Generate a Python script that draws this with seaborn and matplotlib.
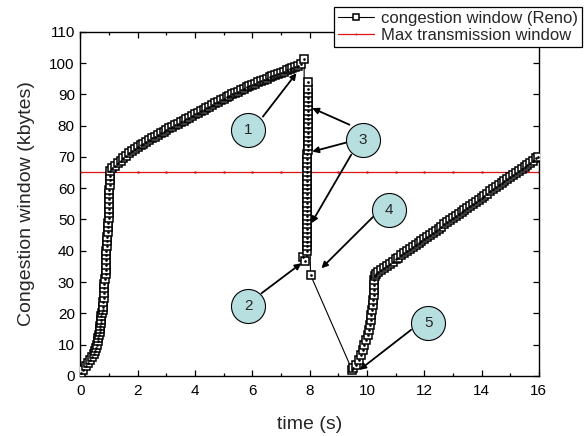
import matplotlib
matplotlib.use("Agg")
import matplotlib.pyplot as plt
import seaborn as sns
import pandas as pd

# ---------------- data ----------------
# slow start 1
t_ss1 = [0.03, 0.10, 0.18, 0.26, 0.33, 0.40, 0.46, 0.52, 0.56, 0.58, 0.60, 0.63, 0.65,
         0.67, 0.69, 0.70, 0.71, 0.72, 0.73, 0.75, 0.78, 0.79, 0.80, 0.81, 0.82, 0.83,
         0.84, 0.87, 0.88, 0.89, 0.90, 0.90, 0.91, 0.91, 0.92, 0.92, 0.93, 0.97, 0.98,
         0.98, 0.99, 0.99, 1.00, 1.00, 1.00, 1.01, 1.01, 1.02, 1.02, 1.02, 1.03]
w_ss1 = [1.0, 2.0, 3.0, 4.0, 5.0, 6.0, 7.0, 8.0, 9.0, 10.0, 11.0, 12.0, 13.0,
         14.0, 15.0, 16.0, 17.0, 18.0, 19.0, 20.0, 21.0, 22.0, 23.5, 25.0, 26.5, 28.0,
         29.5, 31.0, 32.5, 34.0, 35.5, 37.0, 38.5, 40.0, 41.5, 43.0, 44.5, 46.0, 47.5,
         49.0, 50.5, 52.0, 53.5, 55.0, 56.5, 58.0, 59.5, 61.0, 62.5, 64.0, 65.5]
# congestion avoidance 1
t_ca1 = [1.1, 1.2, 1.3, 1.4, 1.5, 1.6, 1.7, 1.8, 1.9, 2.0, 2.1, 2.2, 2.3, 2.4, 2.5, 2.6,
         2.7, 2.8, 2.9, 3.0, 3.1, 3.2, 3.3, 3.4, 3.5, 3.6, 3.7, 3.8, 3.9, 4.0, 4.1, 4.2,
         4.3, 4.4, 4.5, 4.6, 4.7, 4.8, 4.9, 5.0, 5.1, 5.2, 5.3, 5.4, 5.5, 5.6, 5.7, 5.8,
         5.9, 6.0, 6.1, 6.2, 6.3, 6.4, 6.5, 6.6, 6.7, 6.8, 6.9, 7.0, 7.1, 7.2, 7.3, 7.4,
         7.5, 7.6, 7.7, 7.81]
w_ca1 = [66.4, 67.2, 68.0, 68.8, 69.6, 70.4, 71.2, 72.0, 72.6, 73.1, 73.7, 74.2, 74.8,
         75.3, 75.9, 76.4, 77.0, 77.5, 78.1, 78.6, 79.1, 79.6, 80.1, 80.6, 81.1, 81.6,
         82.1, 82.6, 83.1, 83.6, 84.1, 84.6, 85.1, 85.6, 86.1, 86.6, 87.1, 87.6, 88.1,
         88.6, 89.1, 89.6, 90.1, 90.5, 90.9, 91.3, 91.7, 92.2, 92.6, 93.0, 93.4, 93.8,
         94.2, 94.6, 95.0, 95.4, 95.8, 96.2, 96.5, 96.9, 97.3, 97.7, 98.0, 98.4, 98.8,
         99.2, 99.6, 101.2]
# loss, fast recovery, timeout
t_fr = [7.78, 7.83, 7.90, 7.90, 7.90, 7.90, 7.90, 7.91, 7.91, 7.91, 7.91, 7.91, 7.91,
        7.91, 7.91, 7.92, 7.92, 7.92, 7.92, 7.92, 7.92, 7.92, 7.92, 7.92, 7.92, 7.93,
        7.93, 7.93, 7.93, 7.93, 7.93, 7.93, 7.93, 7.93, 7.93, 7.94, 7.94, 7.94, 7.94,
        7.94, 7.94, 8.03]
w_fr = [38.0, 36.8, 40.0, 41.4, 42.8, 44.2, 45.6, 47.0, 48.4, 49.8, 51.2, 52.6, 54.0,
        55.4, 56.8, 58.2, 59.6, 61.0, 62.4, 63.8, 65.2, 66.6, 68.0, 69.4, 70.8, 72.2,
        73.6, 75.0, 76.4, 77.8, 79.2, 80.6, 82.0, 83.4, 84.8, 86.2, 87.6, 89.0, 90.4,
        91.8, 93.8, 32.3]
# slow start 2
t_ss2 = [9.48, 9.52, 9.62, 9.71, 9.80, 9.85, 9.91, 9.97, 10.03, 10.06, 10.11, 10.13,
         10.15, 10.18, 10.20, 10.22, 10.23, 10.24, 10.25, 10.26, 10.28]
w_ss2 = [1.9, 2.4, 3.5, 5.1, 6.7, 8.3, 9.9, 11.5, 13.1, 14.7, 16.3, 17.9, 19.5, 21.1,
         22.7, 24.3, 25.9, 27.5, 29.1, 30.7, 32.0]
# congestion avoidance 2
t_ca2 = [10.3, 10.4, 10.5, 10.6, 10.7, 10.8, 10.9, 11.0, 11.1, 11.2, 11.3, 11.4, 11.5,
         11.6, 11.7, 11.8, 11.9, 12.0, 12.1, 12.2, 12.3, 12.4, 12.5, 12.6, 12.7, 12.8,
         12.9, 13.0, 13.1, 13.2, 13.3, 13.4, 13.5, 13.6, 13.7, 13.8, 13.9, 14.0, 14.1,
         14.2, 14.3, 14.4, 14.5, 14.6, 14.7, 14.8, 14.9, 15.0, 15.1, 15.2, 15.3, 15.4,
         15.5, 15.6, 15.7, 15.8, 15.9, 15.97]
w_ca2 = [32.6, 33.2, 33.9, 34.5, 35.2, 35.9, 36.5, 37.2, 37.8, 38.5, 39.2, 39.8, 40.5,
         41.1, 41.8, 42.5, 43.1, 43.8, 44.4, 45.1, 45.8, 46.4, 47.1, 47.7, 48.4, 49.1,
         49.7, 50.4, 51.0, 51.7, 52.4, 53.0, 53.7, 54.3, 55.0, 55.7, 56.3, 57.0, 57.6,
         58.3, 59.0, 59.6, 60.3, 60.9, 61.6, 62.3, 62.9, 63.6, 64.2, 64.9, 65.6, 66.2,
         66.9, 67.5, 68.2, 68.8, 69.5, 70.1]

t_max = [0, 1, 2, 3, 4, 5, 6, 7, 8, 9, 10, 11, 12, 13, 14, 15, 16]
w_max = [65.3] * 17

series_labels = ["congestion window (Reno)", "Max transmission window"]
x_ticks = [0, 2, 4, 6, 8, 10, 12, 14, 16]
y_ticks = [0, 10, 20, 30, 40, 50, 60, 70, 80, 90, 100, 110]

# annotation circles: label, center, list of (tail, head)
circ_labels = ["1", "2", "3", "4", "5"]
circ_centers = [(5.85, 78.7), (5.85, 22.2), (9.85, 75.5), (10.76, 53.1), (12.14, 17.0)]
circ_arrows = [
    [((6.37, 82.9), (7.54, 96.8))],
    [((6.32, 26.4), (7.71, 36.0))],
    [((9.39, 80.3), (8.09, 85.6)), ((9.28, 74.6), (8.09, 71.7)), ((9.45, 70.7), (8.06, 48.8))],
    [((10.21, 50.8), (8.41, 34.4))],
    [((11.54, 14.7), (9.74, 1.9))],
]

# ---------------- plot ----------------
sns.set_style("ticks")
plt.rcParams["font.family"] = ["Liberation Sans", "DejaVu Sans"]

df = pd.DataFrame({
    "t": t_ss1 + t_ca1 + t_fr + t_ss2 + t_ca2,
    "w": w_ss1 + w_ca1 + w_fr + w_ss2 + w_ca2,
})
dfm = pd.DataFrame({"t": t_max, "w": w_max})

fig = plt.figure(figsize=(5.87, 4.36), dpi=100)
ax = fig.add_axes([0.137, 0.138, 0.781, 0.789])

sns.lineplot(data=dfm, x="t", y="w", ax=ax, sort=False, estimator=None,
             color="#dd1515", lw=0.9, marker="o", markersize=1.8,
             markeredgewidth=0, label=series_labels[1], zorder=2)
sns.lineplot(data=df, x="t", y="w", ax=ax, sort=False, estimator=None,
             color="black", lw=0.8, marker="s", markersize=5.2,
             markerfacecolor="white", markeredgecolor="black",
             markeredgewidth=1.1, label=series_labels[0], zorder=3)
ax.plot(df["t"], df["w"], ls="none", marker="o", markersize=0.9,
        color="black", zorder=4)

ax.set_xlim(0, 16)
ax.set_ylim(0, 110)
ax.set_xticks(x_ticks)
ax.set_xticks([1, 3, 5, 7, 9, 11, 13, 15], minor=True)
ax.set_yticks(y_ticks)
ax.tick_params(axis="both", which="both", direction="in", top=True, right=True,
               labelsize=11, width=0.9, colors="black")
ax.tick_params(axis="both", which="major", length=4.5)
ax.tick_params(axis="both", which="minor", length=2.5)
ax.tick_params(axis="x", which="major", pad=6)
ax.tick_params(axis="y", which="major", pad=4)
for s in ax.spines.values():
    s.set_visible(True)
    s.set_linewidth(1.0)
    s.set_color("black")

ax.set_xlabel("time (s)", fontsize=14, labelpad=13)
ax.set_ylabel("Congestion window (kbytes)", fontsize=14, labelpad=10)

# annotations
for lab, c, arrs in zip(circ_labels, circ_centers, circ_arrows):
    for tail, head in arrs:
        ax.annotate("", xy=head, xytext=tail,
                    arrowprops=dict(arrowstyle="-|>", color="black", lw=1.3,
                                    mutation_scale=9, shrinkA=0, shrinkB=0),
                    zorder=5)
    ax.scatter([c[0]], [c[1]], s=600, facecolor="#b8dfe0", edgecolor="black",
               linewidth=0.8, zorder=6)
    ax.text(c[0], c[1], lab, ha="center", va="center", fontsize=11, zorder=7)

handles, labels = ax.get_legend_handles_labels()
order = [labels.index(series_labels[0]), labels.index(series_labels[1])]
ax.legend_.remove()
leg = fig.legend([handles[i] for i in order], [labels[i] for i in order],
                 loc="upper right", bbox_to_anchor=(0.992, 0.984),
                 frameon=True, fancybox=False, framealpha=1, edgecolor="black",
                 fontsize=12, handlelength=2.2, handletextpad=0.4, markerscale=0.75,
                 borderpad=0.25, labelspacing=0.1, borderaxespad=0)
leg.get_frame().set_linewidth(0.9)
leg.set_zorder(10)

fig.savefig("out.png", dpi=100)
